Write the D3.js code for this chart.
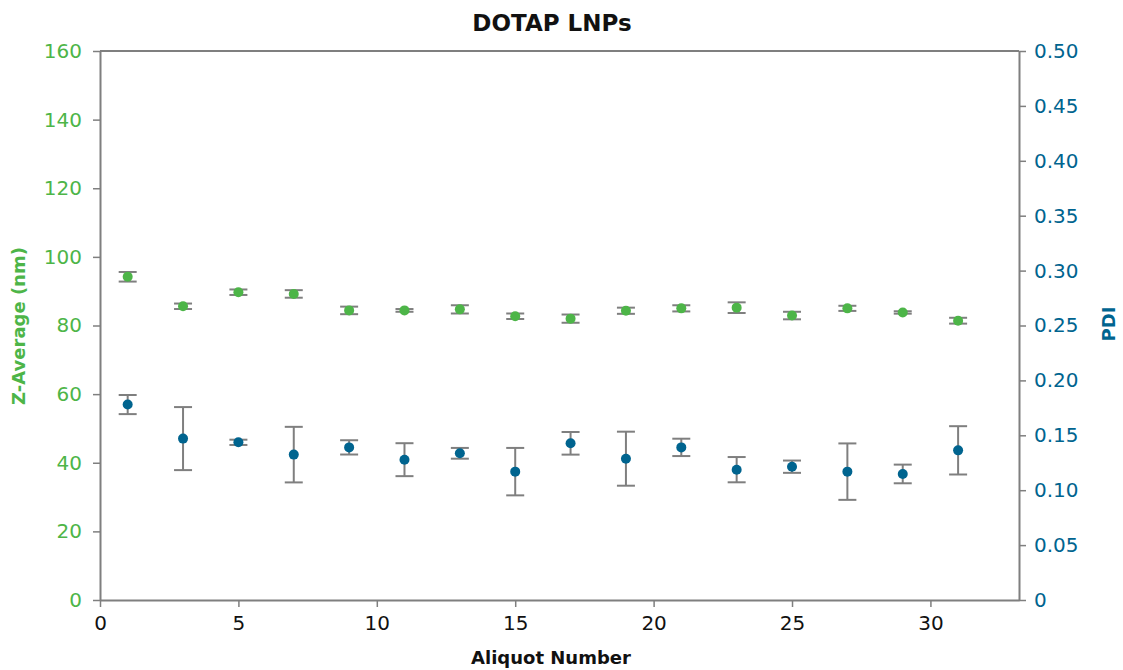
<!DOCTYPE html>
<html>
<head>
<meta charset="utf-8">
<script src="https://cdn.jsdelivr.net/npm/d3@7"></script>
<style>
  body { margin: 0; background: #fff; }
  text { font-family: "DejaVu Sans", Lato, sans-serif; }
</style>
</head>
<body>
<div id="chart"></div>
<script>
// aliquot numbers
var aliquots = [1, 3, 5, 7, 9, 11, 13, 15, 17, 19, 21, 23, 25, 27, 29, 31];
// Z-Average (nm) and its error
var zAvg    = [94.2, 85.6, 89.7, 89.2, 84.4, 84.4, 84.7, 82.7, 82.0, 84.3, 85.0, 85.2, 82.9, 85.0, 83.8, 81.4];
var zErr    = [1.4, 0.8, 0.8, 1.1, 1.1, 0.4, 1.2, 0.8, 1.2, 0.9, 0.9, 1.55, 1.1, 0.75, 0.35, 0.85];
// PDI and its error
var pdi     = [0.178, 0.147, 0.1436, 0.1324, 0.139, 0.1278, 0.1336, 0.1169, 0.1427, 0.1287, 0.139, 0.1187, 0.1214, 0.1169, 0.1148, 0.1363];
var pdiErr  = [0.0087, 0.0287, 0.0024, 0.0253, 0.0065, 0.015, 0.0049, 0.0216, 0.0103, 0.0246, 0.0079, 0.0115, 0.0056, 0.0257, 0.0085, 0.022];

var xTicks = [0, 5, 10, 15, 20, 25, 30];
var zTicks = [0, 20, 40, 60, 80, 100, 120, 140, 160];
var pdiTicks = [0, 0.05, 0.10, 0.15, 0.20, 0.25, 0.30, 0.35, 0.40, 0.45, 0.50];

var width = 1123, height = 670;
var margin = {top: 51, right: 104, bottom: 70, left: 100};

var green = "#4db548", blue = "#00648f", grey = "#7f7f7f";

var svg = d3.select("#chart").append("svg")
  .attr("width", width)
  .attr("height", height);

var x = d3.scaleLinear().domain([0, 33.2]).range([margin.left, width - margin.right]);
var yL = d3.scaleLinear().domain([0, 160]).range([height - margin.bottom, margin.top]);
var yR = d3.scaleLinear().domain([0, 0.5]).range([height - margin.bottom, margin.top]);

// frame top line
svg.append("line")
  .attr("x1", margin.left).attr("x2", width - margin.right)
  .attr("y1", margin.top).attr("y2", margin.top)
  .attr("stroke", grey).attr("stroke-width", 2);

var xAxis = svg.append("g")
  .attr("transform", "translate(0," + (height - margin.bottom) + ")")
  .call(d3.axisBottom(x).tickValues(xTicks).tickSize(7).tickSizeOuter(0).tickPadding(9));

var lAxis = svg.append("g")
  .attr("transform", "translate(" + margin.left + ",0)")
  .call(d3.axisLeft(yL).tickValues(zTicks).tickSize(7).tickSizeOuter(0).tickPadding(11));

var rAxis = svg.append("g")
  .attr("transform", "translate(" + (width - margin.right) + ",0)")
  .call(d3.axisRight(yR).tickValues(pdiTicks).tickSize(7).tickSizeOuter(0).tickPadding(8)
    .tickFormat(function(d) { return d === 0 ? "0" : d3.format(".2f")(d); }));

[xAxis, lAxis, rAxis].forEach(function(a) {
  a.select(".domain").attr("stroke", grey).attr("stroke-width", 2);
  a.selectAll(".tick line").attr("stroke", grey).attr("stroke-width", 1.5);
  a.selectAll("text").style("font-size", "20px");
});
xAxis.selectAll("text").attr("fill", "#111");
lAxis.selectAll("text").attr("fill", green);
rAxis.selectAll("text").attr("fill", blue);

// error bars
function errorBars(cls, vals, errs, y) {
  var g = svg.append("g").classed(cls, true);
  var capW = 9;
  aliquots.forEach(function(a, i) {
    var cx = x(a), lo = y(vals[i] - errs[i]), hi = y(vals[i] + errs[i]);
    g.append("line").attr("x1", cx).attr("x2", cx).attr("y1", lo).attr("y2", hi)
      .attr("stroke", grey).attr("stroke-width", 2);
    g.append("line").attr("x1", cx - capW).attr("x2", cx + capW).attr("y1", lo).attr("y2", lo)
      .attr("stroke", grey).attr("stroke-width", 2);
    g.append("line").attr("x1", cx - capW).attr("x2", cx + capW).attr("y1", hi).attr("y2", hi)
      .attr("stroke", grey).attr("stroke-width", 2);
  });
}
errorBars("z-err", zAvg, zErr, yL);
errorBars("pdi-err", pdi, pdiErr, yR);

svg.append("g").selectAll("circle")
  .data(aliquots)
  .enter().append("circle")
  .attr("cx", function(d) { return x(d); })
  .attr("cy", function(d, i) { return yL(zAvg[i]); })
  .attr("r", 5)
  .attr("fill", green);

svg.append("g").selectAll("circle")
  .data(aliquots)
  .enter().append("circle")
  .attr("cx", function(d) { return x(d); })
  .attr("cy", function(d, i) { return yR(pdi[i]); })
  .attr("r", 5)
  .attr("fill", blue);

// titles
svg.append("text")
  .attr("x", 552).attr("y", 31)
  .attr("text-anchor", "middle")
  .style("font-size", "23px").style("font-weight", "bold")
  .attr("fill", "#111")
  .text("DOTAP LNPs");

svg.append("text")
  .attr("x", 551).attr("y", 664)
  .attr("text-anchor", "middle")
  .style("font-size", "18px").style("font-weight", "bold")
  .attr("fill", "#111")
  .text("Aliquot Number");

svg.append("text")
  .attr("transform", "translate(25," + 326 + ") rotate(-90)")
  .attr("text-anchor", "middle")
  .style("font-size", "18px").style("font-weight", "bold")
  .attr("fill", green)
  .text("Z-Average (nm)");

svg.append("text")
  .attr("transform", "translate(1115," + 324 + ") rotate(-90)")
  .attr("text-anchor", "middle")
  .style("font-size", "18px").style("font-weight", "bold")
  .attr("fill", blue)
  .text("PDI");
</script>
</body>
</html>
